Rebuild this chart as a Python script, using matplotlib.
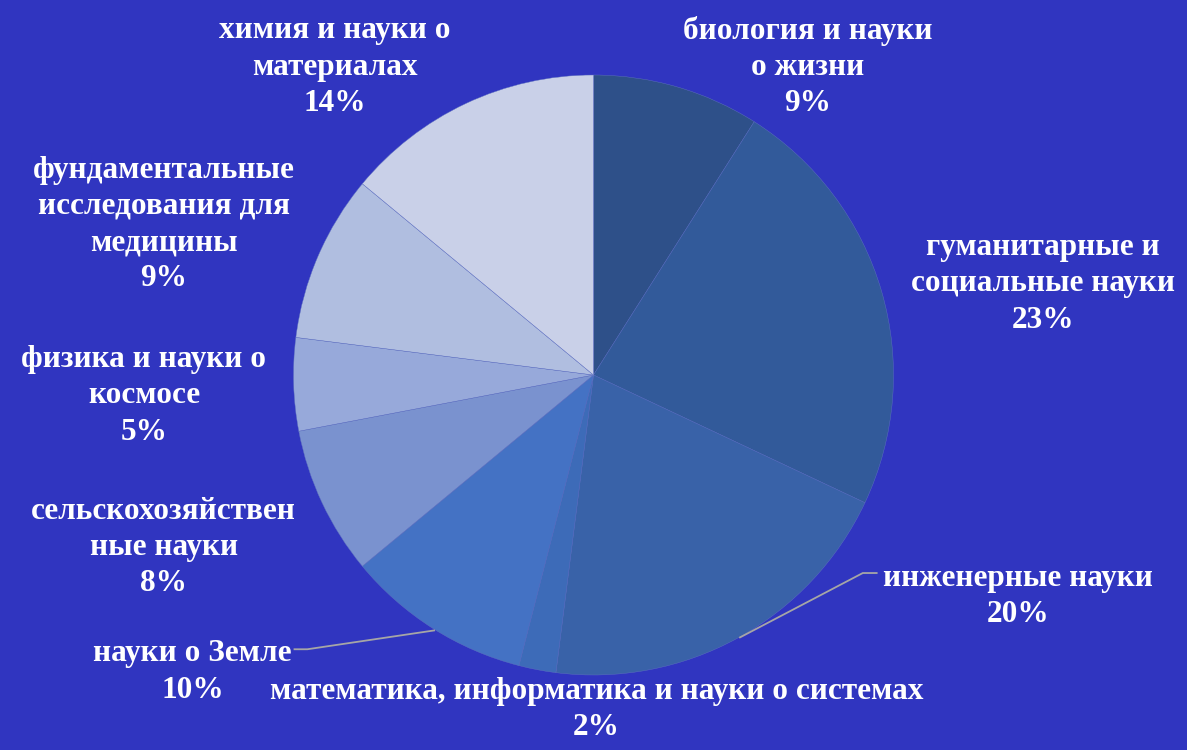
import matplotlib.pyplot as plt
from matplotlib.lines import Line2D

# shares of the pie, clockwise from 12 o'clock
categories = [
    "биология и науки\nо жизни",
    "гуманитарные и\nсоциальные науки",
    "инженерные науки",
    "математика, информатика и науки о системах",
    "науки о Земле",
    "сельскохозяйствен\nные науки",
    "физика и науки о\nкосмосе",
    "фундаментальные\nисследования для\nмедицины",
    "химия и науки о\nматериалах",
]
shares = [9, 23, 20, 2, 10, 8, 5, 9, 14]
colors = ["#2e5089", "#325a9a", "#3962a8", "#3d6bb8", "#4472c4",
          "#7a92cf", "#97a9da", "#b0bee0", "#c9d0e8"]

# label centres in pixel space of the 1187x750 picture
label_px = [(810, 69), (1048, 288), (1023, 604), (597, 718), (189, 680),
            (160, 554), (140, 401), (160, 228), (333, 69)]

W, H = 1187, 750
CX, CY, R = 594, 380, 303
BG = "#3035c0"

def px(x, y):
    return (x - CX) / R, (CY - y) / R

fig = plt.figure(figsize=(W / 100, H / 100), dpi=100, facecolor=BG)
ax = fig.add_axes([0, 0, 1, 1])
ax.set_facecolor(BG)
ax.set_xlim(-CX / R, (W - CX) / R)
ax.set_ylim(-(H - CY) / R, CY / R)
ax.set_aspect("equal")
ax.axis("off")

ax.pie(shares, colors=colors, startangle=90, counterclock=False, radius=1,
       wedgeprops=dict(edgecolor="#5f72c0", linewidth=0.3))

font = dict(family="Liberation Serif", weight="bold", size=22.5, color="white")
for cat, share, (lx, ly) in zip(categories, shares, label_px):
    x, y = px(lx, ly)
    ax.text(x, y, f"{cat}\n{share}%", ha="center", va="center",
            linespacing=1.33, **font)

# leader lines
for pts in ([(742, 645), (866, 580), (880, 580)],
            [(433, 638), (305, 657), (292, 657)]):
    xs, ys = zip(*[px(a, b) for a, b in pts])
    ax.add_line(Line2D(xs, ys, color="#a6a6a6", linewidth=1.3))

fig.savefig("out.png", dpi=100, facecolor=BG)
